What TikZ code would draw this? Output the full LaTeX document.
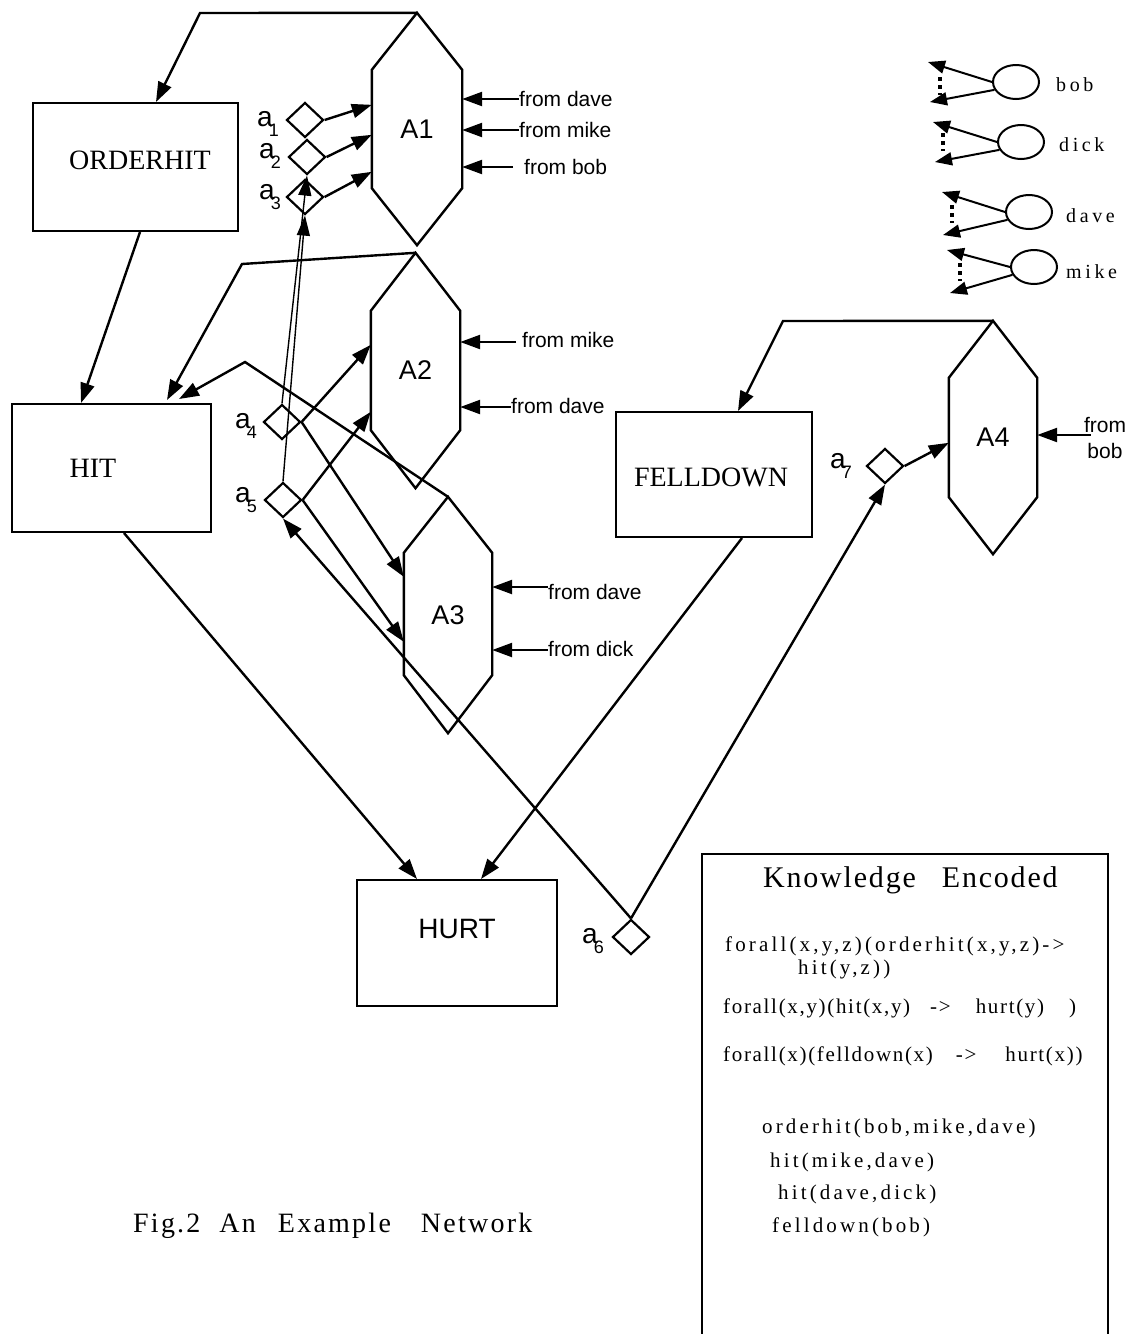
\documentclass[tikz,border=0pt]{standalone}
\usepackage{fontspec}
\setmainfont{Liberation Serif}
\newfontfamily\myhel{Liberation Sans}
\newfontfamily\mykbA{Liberation Serif}[LetterSpace=15]
\newfontfamily\mykbB{Liberation Serif}[LetterSpace=8]
\newfontfamily\mylgd{Liberation Serif}[LetterSpace=18]
\newfontfamily\myttl{Liberation Serif}[LetterSpace=6]
\newfontfamily\mycapf{Liberation Serif}[LetterSpace=8]
\usetikzlibrary{arrows.meta,calc,shapes.geometric}
\newcommand\asub[1]{a\kern-4pt\raisebox{-10pt}{\fontsize{18}{18}\selectfont #1}}
\newcommand\hexdraw[3]{%
  \draw[hexline] (#1.north) -- ($(#1.north east)+(0,#2)$) -- ($(#1.south east)+(0,-#3)$)
    -- (#1.south) -- ($(#1.south west)+(0,-#3)$) -- ($(#1.north west)+(0,#2)$) -- cycle;}
\tikzset{
 conn/.style={line width=2.4pt, -{Triangle[length=20pt,width=14pt]}},
 thinconn/.style={line width=1.4pt, -{Triangle[length=20pt,width=13pt]}},
 boxnode/.style={draw, line width=2pt, inner sep=0pt},
 hexnode/.style={inner sep=0pt, font=\myhel\fontsize{27}{27}\selectfont},
 hexline/.style={line width=2.4pt, line join=miter},
 dia/.style={draw, diamond, line width=2.2pt, inner sep=0pt, minimum width=37pt, minimum height=35pt},
 alab/.style={font=\myhel\fontsize{28}{28}\selectfont, inner sep=0pt},
 serlab/.style={font=\fontsize{28}{28}\selectfont, inner sep=0pt},
 fromlab/.style={font=\myhel\fontsize{21}{21}\selectfont, inner sep=0pt, anchor=west},
 lgdell/.style={draw, ellipse, line width=2pt, minimum width=46pt, minimum height=34pt, inner sep=0pt},
 lgdtxt/.style={font=\mylgd\fontsize{20}{20}\selectfont, inner sep=0pt, anchor=west},
 lgdarr/.style={line width=2pt, -{Triangle[length=17pt,width=13pt]}},
 dots/.style={line width=3.5pt, dash pattern=on 3.5pt off 4.5pt},
 kbtxt/.style={font=\mykbA\fontsize{21}{21}\selectfont, inner sep=0pt, anchor=base west},
 kbtxtB/.style={font=\mykbB\fontsize{21}{21}\selectfont, inner sep=0pt, anchor=base west},
}
\begin{document}
\begin{tikzpicture}[x=1pt,y=-1pt]
\useasboundingbox (0,0) rectangle (1132,1334);
% boxes
\node[boxnode, minimum width=205pt, minimum height=128pt] (orderhit) at (135.5,167) {};
\node[serlab] (torderhit) at (140,160) {ORDERHIT};
\node[boxnode, minimum width=199pt, minimum height=128pt] (hit) at (111.5,468) {};
\node[serlab] (thit) at (93,468) {HIT};
\node[boxnode, minimum width=196pt, minimum height=125pt] (felldown) at (714,474.5) {};
\node[serlab] (tfelldown) at (711,477) {FELLDOWN};
\node[boxnode, minimum width=200pt, minimum height=126pt] (hurt) at (457,943) {};
\node[serlab, font=\myhel\fontsize{28}{28}\selectfont] (thurt) at (457,929) {HURT};
% hexagons
\node[hexnode, minimum width=90pt, minimum height=232pt] (A1) at (417,129) {A1};
\node[hexnode, minimum width=89pt, minimum height=235pt] (A2) at (415.5,370.5) {A2};
\node[hexnode, minimum width=88pt, minimum height=236pt] (A3) at (448,615) {A3};
\node[hexnode, minimum width=88pt, minimum height=233pt] (A4) at (993,437.5) {A4};
\hexdraw{A1}{57}{57}
\hexdraw{A2}{58}{58}
\hexdraw{A3}{56}{58}
\hexdraw{A4}{57}{57}
% diamonds
\node[dia] (a1) at (305,120) {};
\node[dia] (a2) at (307,157) {};
\node[dia] (a3) at (305,197) {};
\node[dia] (a4) at (282,422) {};
\node[dia] (a5) at (283,500) {};
\node[dia] (a6) at (631,937) {};
\node[dia] (a7) at (885,466) {};
\node[alab] (la1) at (268,124) {\asub{1}};
\node[alab] (la2) at (270,156) {\asub{2}};
\node[alab] (la3) at (270,197) {\asub{3}};
\node[alab] (la4) at (246,426) {\asub{4}};
\node[alab] (la5) at (246,500) {\asub{5}};
\node[alab] (la6) at (593,941) {\asub{6}};
\node[alab] (la7) at (841,466) {\asub{7}};
% main connectors
\coordinate (k1) at (200,13);
\draw[conn] (A1.north) -- (k1) -- ($(orderhit.north west)+(124,0)$);
\draw[conn] ($(orderhit.south west)+(108,0)$) -- ($(hit.north west)+(70,0)$);
\coordinate (k2) at (242,264);
\draw[conn] (A2.north) -- (k2) -- ($(hit.north west)+(156,-3)$);
\coordinate (k3) at (245,362);
\draw[conn] (A3.north) -- (k3) -- ($(hit.north west)+(168,-4)$);
\draw[conn] ($(hit.south west)+(113,0)$) -- ($(hurt.north west)+(61,0)$);
\draw[conn] ($(felldown.south west)+(127,0)$) -- ($(hurt.north west)+(125,0)$);
\coordinate (k4) at (783,321);
\draw[conn] (A4.north) -- (k4) -- ($(felldown.north west)+(123,0)$);
% diamonds to hexagons
\draw[conn] (a1.east) -- ($(A1.north west)+(0,92)$);
\draw[conn] (a2.east) -- ($(A1.north west)+(0,122)$);
\draw[conn] (a3.east) -- ($(A1.north west)+(0,159)$);
\draw[conn] (a4.east) -- ($(A2.north west)+(0,92)$);
\draw[conn] (a4.east) -- ($(A3.north west)+(0,80)$);
\draw[conn] (a5.east) -- ($(A2.north west)+(0,159)$);
\draw[conn] (a5.east) -- ($(A3.north west)+(0,145)$);
\draw[conn] (a7.east) -- ($(A4.north west)+(0,122)$);
\draw[thinconn] (a4.north) -- (a2.south);
\draw[thinconn] (a5.north) -- (a3.south);
\draw[conn] (a6.north) -- (a5.south);
\draw[conn] (a6.north) -- (a7.south);
% inputs
\node[fromlab] (fA1d) at (519,99) {from dave};
\node[fromlab] (fA1m) at (519,130) {from mike};
\node[fromlab] (fA1b) at (524,167) {from bob};
\draw[conn] (fA1d.west) -- (fA1d.west -| A1.east);
\draw[conn] (fA1m.west) -- (fA1m.west -| A1.east);
\draw[conn] ([xshift=-11pt]fA1b.west) -- (fA1b.west -| A1.east);
\node[fromlab] (fA2m) at (522,340) {from mike};
\node[fromlab] (fA2d) at (511,406) {from dave};
\draw[conn] ([xshift=-6pt,yshift=-2pt]fA2m.west) -- ([yshift=-2pt]fA2m.west -| A2.east);
\draw[conn] ([yshift=-1pt]fA2d.west) -- ([yshift=-1pt]fA2d.west -| A2.east);
\node[fromlab] (fA3d) at (548,592) {from dave};
\node[fromlab] (fA3k) at (548,649) {from dick};
\draw[conn] ([yshift=5pt]fA3d.west) -- ([yshift=5pt]fA3d.west -| A3.east);
\draw[conn] ([yshift=-1pt]fA3k.west) -- ([yshift=-1pt]fA3k.west -| A3.east);
\node[font=\myhel\fontsize{21}{26}\selectfont, align=center, inner sep=0pt] (fA4b) at (1105,438) {from\\bob};
\coordinate (fA4s) at ($(fA4b.west)+(7,-3)$);
\draw[conn] (fA4s) -- (fA4s -| A4.east);
% legend
\node[lgdell] (bob) at (1016,82) {};
\node[lgdtxt] (tbob) at (1056,85) {bob};
\coordinate (bob1) at (928,62); \coordinate (bob2) at (930,102);
\draw[lgdarr] (bob.west) -- (bob1);
\draw[lgdarr] (bob.200) -- (bob2);
\draw[dots] (940,77) -- (940,95);
\node[lgdell] (dick) at (1021,142) {};
\node[lgdtxt] (tdick) at (1059,145) {dick};
\coordinate (dick1) at (933,122); \coordinate (dick2) at (935,162);
\draw[lgdarr] (dick.west) -- (dick1);
\draw[lgdarr] (dick.200) -- (dick2);
\draw[dots] (943,133) -- (943,151);
\node[lgdell] (dave) at (1029,212) {};
\node[lgdtxt] (tdave) at (1066,216) {dave};
\coordinate (dave1) at (942,192); \coordinate (dave2) at (943,235);
\draw[lgdarr] (dave.west) -- (dave1);
\draw[lgdarr] (dave.200) -- (dave2);
\draw[dots] (952,205) -- (952,223);
\node[lgdell] (mike) at (1034,267) {};
\node[lgdtxt] (tmike) at (1066,272) {mike};
\coordinate (mike1) at (947,250); \coordinate (mike2) at (950,293);
\draw[lgdarr] (mike.west) -- (mike1);
\draw[lgdarr] (mike.200) -- (mike2);
\draw[dots] (960,263) -- (960,281);
% knowledge box
\coordinate (kbl) at (702,1334); \coordinate (ktl) at (702,854);
\coordinate (ktr) at (1108,854); \coordinate (kbr) at (1108,1334);
\draw[line width=2pt] (kbl) -- (ktl) -- (ktr) -- (kbr);
\node[font=\myttl\fontsize{30}{30}\selectfont, inner sep=0pt, anchor=base west] (ktitle) at (763,887) {Knowledge\hspace{26pt}Encoded};
\node[kbtxt] (kl1) at (725,951) {forall(x,y,z)(orderhit(x,y,z)->};
\node[kbtxt] (kl2) at (798,974) {hit(y,z))};
\node[kbtxtB] (kl3) at (723,1013) {forall(x,y)(hit(x,y)\hspace{20pt}->\hspace{25pt}hurt(y)\hspace{25pt})};
\node[kbtxtB] (kl4) at (723,1061) {forall(x)(felldown(x)\hspace{23pt}->\hspace{29pt}hurt(x))};
\node[kbtxt] (kl5) at (762,1133) {orderhit(bob,mike,dave)};
\node[kbtxt] (kl6) at (770,1167) {hit(mike,dave)};
\node[kbtxt] (kl7) at (778,1199) {hit(dave,dick)};
\node[kbtxt] (kl8) at (772,1232) {felldown(bob)};
% caption
\node[font=\mycapf\fontsize{28}{28}\selectfont, inner sep=0pt, anchor=base west] (caption) at (133,1232) {Fig.2\hspace{19pt}An\hspace{22pt}Example\hspace{30pt}Network};
\end{tikzpicture}
\end{document}
